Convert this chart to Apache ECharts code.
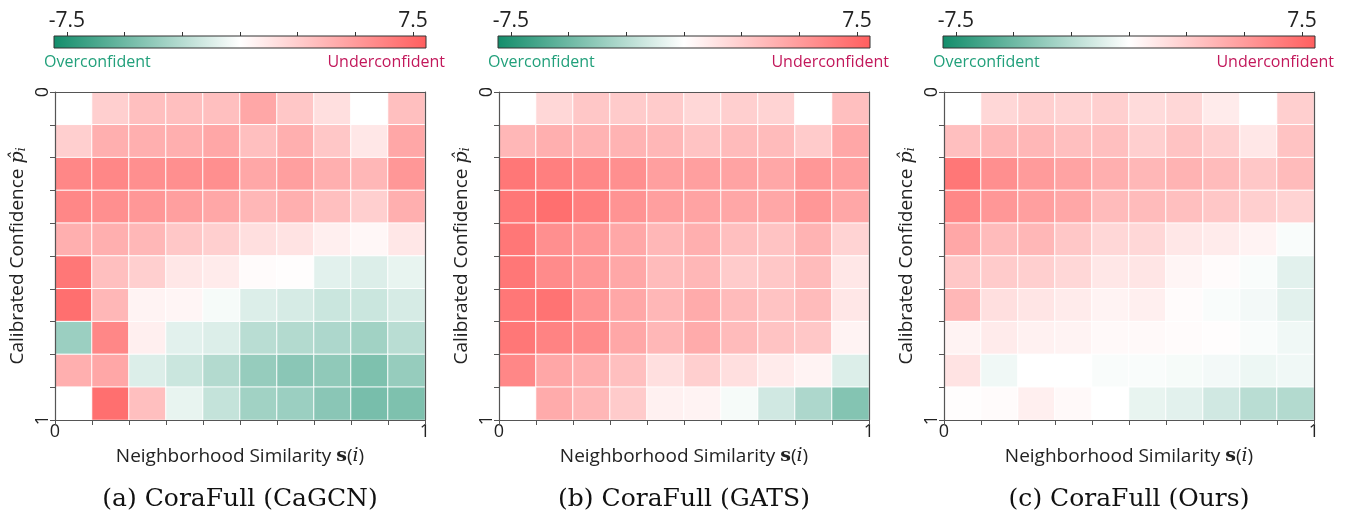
<!DOCTYPE html>
<html>
<head>
<meta charset="utf-8">
<script src="https://cdn.jsdelivr.net/npm/echarts@6/dist/echarts.min.js"></script>
<style>
  html, body { margin: 0; padding: 0; background: #fff; }
  #main { width: 1348px; height: 519px; }
</style>
</head>
<body>
<div id="main"></div>
<script>
// bins of the two axes (10 x 10)
const bins = ['0', '1', '2', '3', '4', '5', '6', '7', '8', '9'];
const colorbarTicks = [-7.5, -5, -2.5, 0, 2.5, 5, 7.5];
const colorbarLabels = [-7.5, 7.5];
const captions = ['(a) CoraFull (CaGCN)', '(b) CoraFull (GATS)', '(c) CoraFull (Ours)'];

// rows: confidence bin 0 (top) .. 9 (bottom); columns: similarity bin 0 .. 9
const caGCN = [
  [0, 2.4, 3.2, 3.2, 3.2, 4.4, 2.8, 1.6, 0, 3.2],
  [2.4, 4.0, 4.0, 4.0, 4.4, 3.2, 4.0, 2.8, 1.2, 4.4],
  [6.0, 6.0, 5.6, 5.6, 5.6, 4.4, 4.8, 4.0, 3.6, 5.2],
  [6.0, 5.6, 5.2, 4.8, 4.4, 3.6, 4.0, 3.2, 2.4, 4.0],
  [4.0, 4.0, 3.6, 2.8, 2.4, 1.6, 1.4, 0.8, 0.4, 1.2],
  [6.8, 3.2, 2.4, 1.2, 1.0, 0.2, 0.1, -1.0, -1.2, -0.8],
  [7.2, 3.6, 0.6, 0.5, -0.3, -1.2, -1.4, -1.8, -1.8, -1.4],
  [-3.4, 6.0, 0.8, -1.0, -1.2, -2.4, -2.6, -2.8, -3.2, -2.4],
  [4.0, 4.4, -1.2, -1.8, -2.6, -3.6, -4.0, -3.8, -4.4, -3.6],
  [0, 7.2, 3.2, -0.8, -2.0, -3.2, -3.4, -4.0, -4.6, -4.4]
];
const gats = [
  [0, 2.0, 2.8, 2.6, 2.6, 2.0, 2.4, 2.2, 0, 3.2],
  [3.6, 4.0, 3.8, 3.8, 3.6, 3.0, 3.4, 3.4, 2.6, 4.4],
  [6.8, 6.4, 6.0, 5.6, 4.8, 4.8, 4.6, 4.4, 5.2, 4.8],
  [6.8, 7.2, 6.4, 5.4, 4.8, 4.6, 4.4, 4.4, 5.2, 4.4],
  [6.8, 5.6, 5.2, 4.4, 3.6, 4.0, 3.2, 3.0, 3.8, 2.2],
  [6.8, 5.8, 5.2, 4.4, 3.4, 3.6, 2.6, 2.8, 3.4, 1.2],
  [6.8, 7.0, 5.4, 4.4, 3.6, 4.2, 3.4, 3.0, 3.4, 1.2],
  [6.8, 6.2, 5.8, 4.4, 3.6, 4.2, 3.4, 3.0, 2.8, 0.6],
  [6.0, 4.4, 4.0, 3.2, 1.6, 2.4, 1.6, 1.0, 0.6, -1.2],
  [0, 4.2, 3.6, 2.6, 0.7, 0.6, -0.3, -1.6, -2.8, -4.2]
];
const ours = [
  [0, 2.0, 2.4, 2.2, 2.4, 1.8, 2.0, 1.0, 0, 2.4],
  [3.2, 3.6, 3.6, 3.2, 3.2, 2.4, 3.0, 2.4, 1.2, 3.0],
  [6.8, 5.6, 5.0, 4.6, 4.0, 3.6, 3.8, 3.4, 2.8, 3.4],
  [6.0, 5.2, 4.8, 4.4, 3.4, 3.4, 3.2, 2.8, 2.4, 2.2],
  [4.4, 3.4, 3.6, 2.8, 2.0, 2.0, 1.2, 1.0, 0.6, -0.2],
  [2.8, 2.6, 2.4, 2.0, 1.2, 1.3, 0.5, 0.2, -0.2, -1.0],
  [3.6, 1.6, 1.3, 1.0, 0.6, 0.8, 0.2, -0.2, -0.4, -1.0],
  [0.6, 1.0, 0.7, 0.6, 0.3, 0.3, 0.2, 0.1, -0.2, -0.5],
  [1.4, -0.5, 0, 0, -0.2, -0.2, -0.3, -0.4, -0.6, -0.5],
  [0.1, 0.2, 0.8, 0.3, 0, -0.8, -1.0, -1.6, -2.4, -2.6]
];
const matrices = [caGCN, gats, ours];

const vmax = 8.06;
const GREEN = '#138d6b';
const RED = '#ff5e5e';
const lefts = [55, 499, 944];
const plotW = 370, plotH = 328, plotTop = 92;
const sans = '"Open Sans", sans-serif';
const serif = '"DejaVu Serif", serif';
const axisGray = '#555';

const chart = echarts.init(document.getElementById('main'));

let grid = [], xAxis = [], yAxis = [], series = [], graphic = [];

matrices.forEach((m, i) => {
  const L = lefts[i];
  const gHeat = grid.length;
  grid.push({left: L, top: plotTop, width: plotW, height: plotH});
  const gBar = grid.length;
  grid.push({
    left: L - 1, top: 36, width: plotW + 2, height: 12, show: true,
    borderColor: '#333', borderWidth: 1,
    backgroundColor: new echarts.graphic.LinearGradient(0, 0, 1, 0, [
      {offset: 0, color: GREEN}, {offset: 0.5, color: '#ffffff'}, {offset: 1, color: RED}
    ])
  });

  const xHeat = xAxis.length;
  xAxis.push({
    type: 'category', gridIndex: gHeat, data: bins, position: 'bottom', z: 10,
    axisLine: {onZero: false, lineStyle: {color: axisGray, width: 1.2}},
    axisTick: {show: true, length: 5, lineStyle: {color: axisGray}},
    axisLabel: {show: false}, splitLine: {show: false},
    name: 'Neighborhood Similarity {b|s}({i|i})', nameLocation: 'middle', nameGap: 27,
    nameTextStyle: {
      fontFamily: sans, fontSize: 19, color: '#222',
      rich: {
        b: {fontFamily: serif, fontWeight: 'bold', fontSize: 19, color: '#222'},
        i: {fontFamily: serif, fontStyle: 'italic', fontSize: 19, color: '#222'}
      }
    }
  });
  xAxis.push({
    type: 'value', gridIndex: gHeat, min: 0, max: 1, interval: 1, position: 'bottom',
    axisLine: {show: false, onZero: false}, axisTick: {show: false}, splitLine: {show: false},
    axisLabel: {fontFamily: sans, fontSize: 18, color: '#222', margin: 3}
  });
  xAxis.push({
    type: 'value', gridIndex: gHeat, min: 0, max: 1, position: 'top', z: 10,
    axisLine: {show: true, onZero: false, lineStyle: {color: axisGray, width: 1.2}},
    axisTick: {show: false}, axisLabel: {show: false}, splitLine: {show: false}
  });
  xAxis.push({
    type: 'value', gridIndex: gBar, min: -vmax, max: vmax, position: 'top',
    axisLine: {show: false, onZero: false}, splitLine: {show: false},
    axisTick: {length: 4, customValues: colorbarTicks, lineStyle: {color: '#333'}},
    axisLabel: {customValues: colorbarLabels, fontFamily: sans, fontSize: 21, color: '#222', margin: 4}
  });

  const yHeat = yAxis.length;
  yAxis.push({
    type: 'category', gridIndex: gHeat, data: bins, inverse: true, position: 'left', z: 10,
    axisLine: {onZero: false, lineStyle: {color: axisGray, width: 1.2}},
    axisTick: {show: true, length: 5, lineStyle: {color: axisGray}},
    axisLabel: {show: false}, splitLine: {show: false},
    name: 'Calibrated Confidence {p|p̂}{s|i}', nameLocation: 'middle', nameGap: 27,
    nameTextStyle: {
      fontFamily: sans, fontSize: 19, color: '#222',
      rich: {
        p: {fontFamily: serif, fontStyle: 'italic', fontSize: 19, color: '#222'},
        s: {fontFamily: serif, fontStyle: 'italic', fontSize: 12, color: '#222', padding: [8, 0, 0, 0]}
      }
    }
  });
  yAxis.push({
    type: 'value', gridIndex: gHeat, min: 0, max: 1, interval: 1, inverse: true, position: 'left',
    axisLine: {show: false, onZero: false}, axisTick: {show: false}, splitLine: {show: false},
    axisLabel: {rotate: 90, fontFamily: sans, fontSize: 18, color: '#222', margin: 3}
  });
  yAxis.push({
    type: 'value', gridIndex: gHeat, min: 0, max: 1, position: 'right', z: 10,
    axisLine: {show: true, onZero: false, lineStyle: {color: axisGray, width: 1.2}},
    axisTick: {show: false}, axisLabel: {show: false}, splitLine: {show: false}
  });
  yAxis.push({type: 'value', gridIndex: gBar, show: false});

  const data = [];
  m.forEach((row, r) => row.forEach((v, c) => data.push([c, r, v])));
  series.push({
    type: 'heatmap', xAxisIndex: xHeat, yAxisIndex: yHeat, data: data,
    itemStyle: {borderColor: '#ffffff', borderWidth: 1},
    emphasis: {disabled: true}
  });

  graphic.push({
    type: 'text', x: L - 11, y: 62,
    style: {text: 'Overconfident', font: '16px ' + sans, fill: '#22a07b', textAlign: 'left', textVerticalAlign: 'middle'}
  });
  graphic.push({
    type: 'text', x: L + plotW + 20, y: 62,
    style: {text: 'Underconfident', font: '16px ' + sans, fill: '#c2185b', textAlign: 'right', textVerticalAlign: 'middle'}
  });
  graphic.push({
    type: 'text', x: L + plotW / 2, y: 499,
    style: {text: captions[i], font: '25px ' + serif, fill: '#111', textAlign: 'center', textVerticalAlign: 'middle'}
  });
});

chart.setOption({
  animation: false,
  backgroundColor: '#ffffff',
  grid: grid,
  xAxis: xAxis,
  yAxis: yAxis,
  visualMap: {
    type: 'continuous', show: false, min: -vmax, max: vmax,
    seriesIndex: [0, 1, 2],
    inRange: {color: [GREEN, '#ffffff', RED]}
  },
  series: series,
  graphic: graphic
});
</script>
</body>
</html>
